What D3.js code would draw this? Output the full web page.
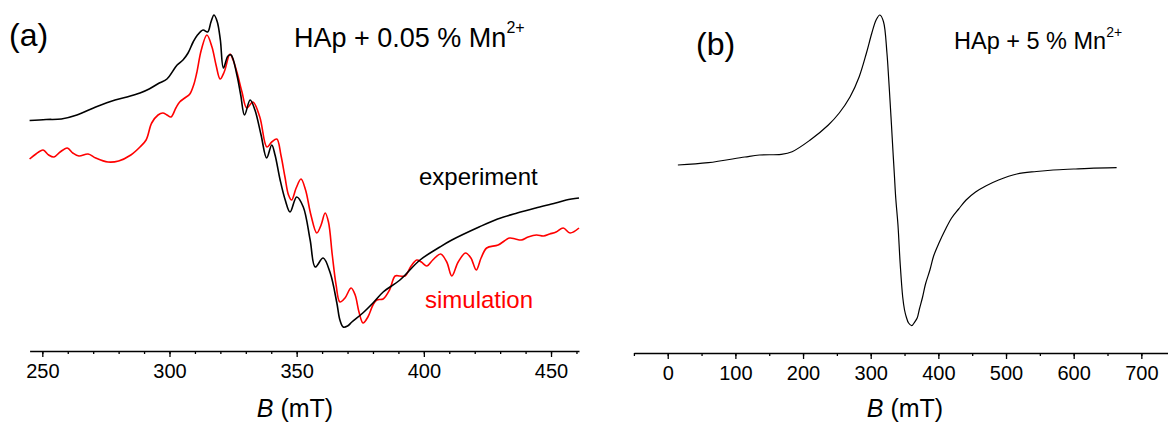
<!DOCTYPE html>
<html>
<head>
<meta charset="utf-8">
<script src="https://cdn.jsdelivr.net/npm/d3@7"></script>
<style>
  body { margin: 0; background: #fff; }
  text { font-family: Arial, "Liberation Sans", sans-serif; }
</style>
</head>
<body>
<div id="chart"></div>
<script>
// panel (a): HAp + 0.05 % Mn2+, field in mT, intensity in arb. units
let expB = [245, 251.5, 257.5, 263.6, 271, 278.6, 283.3, 288.4, 292, 296, 299, 303, 305.3, 307.3, 309.3, 311, 313.2, 315, 316.3, 317.5, 318.8, 320, 321.2, 323, 324.2, 326.5, 328, 329.5, 331.7, 333.6, 336, 338.2, 340.2, 341.5, 343.5, 345.5, 347.4, 350, 352.6, 355.3, 357.3, 360.4, 363.2, 365.8, 367, 368.3, 370, 371.7, 376, 380, 384, 390.6, 398.5, 406.3, 411, 421.7, 429, 436.7, 444, 451.8, 456, 461];
let expI = [0.595, 0.605, 0.61, 0.65, 0.73, 0.80, 0.83, 0.87, 0.91, 0.97, 1.01, 1.15, 1.20, 1.27, 1.38, 1.45, 1.50, 1.48, 1.58, 1.65, 1.58, 1.40, 1.12, 1.24, 1.25, 1.05, 0.85, 0.65, 0.80, 0.70, 0.45, 0.22, 0.35, 0.25, 0.0, -0.20, -0.32, -0.17, -0.27, -0.60, -0.87, -0.78, -0.93, -1.23, -1.40, -1.47, -1.46, -1.42, -1.33, -1.23, -1.12, -1.00, -0.80, -0.67, -0.60, -0.47, -0.39, -0.33, -0.28, -0.23, -0.20, -0.18];

let simB = [245, 247.5, 250.3, 252.5, 254.6, 257, 259.8, 262, 264.4, 268, 271, 275.8, 280, 284.8, 288.4, 290.8, 293, 295.5, 297.4, 299, 300.6, 302.5, 304, 306, 308, 309.5, 310.7, 312.5, 314.7, 316.7, 318.3, 319.9, 321.5, 323.8, 325, 326.5, 328.5, 330.4, 332.8, 335.5, 338.3, 340.2, 342.2, 343.8, 345.4, 346.8, 348, 349.8, 351.7, 353.5, 355.6, 357.9, 359.6, 361.2, 362.5, 364, 365.5, 367, 369, 371.4, 373, 374.5, 376.1, 378, 380, 381.5, 384, 386.5, 388.7, 390.5, 392.6, 395, 397.2, 399, 401.2, 403.5, 406.6, 409, 411, 413.5, 416.4, 418.5, 420.6, 422.5, 424.7, 429.2, 433.7, 436, 438.3, 441, 444.3, 447, 449.5, 452, 454.8, 457.5, 461];
let simI = [0.21, 0.26, 0.30, 0.25, 0.23, 0.28, 0.32, 0.27, 0.24, 0.26, 0.22, 0.18, 0.19, 0.25, 0.33, 0.40, 0.57, 0.65, 0.67, 0.65, 0.63, 0.72, 0.78, 0.82, 0.86, 0.95, 1.07, 1.30, 1.45, 1.33, 1.15, 1.01, 1.08, 1.26, 1.20, 1.08, 0.88, 0.72, 0.78, 0.63, 0.33, 0.38, 0.41, 0.25, 0.03, -0.15, -0.20, -0.08, 0.01, -0.10, -0.35, -0.53, -0.45, -0.33, -0.42, -0.75, -1.05, -1.22, -1.18, -1.08, -1.15, -1.32, -1.43, -1.37, -1.25, -1.20, -1.19, -1.10, -0.96, -0.96, -0.96, -0.86, -0.80, -0.82, -0.86, -0.80, -0.74, -0.82, -0.96, -0.82, -0.73, -0.78, -0.90, -0.78, -0.68, -0.65, -0.58, -0.59, -0.60, -0.57, -0.55, -0.56, -0.54, -0.52, -0.48, -0.53, -0.48];

// panel (b): HAp + 5 % Mn2+
let bB = [15, 60, 114, 135.6, 167.7, 183.8, 210.6, 237.4, 253.5, 269.6, 283, 293.7, 301.7, 308, 313.5, 318.9, 324, 326.5, 328.5, 330.7, 332.8, 335, 337, 340.3, 343.5, 347.3, 350, 352.6, 356, 360.7, 364, 368.7, 372, 376.7, 381, 387.5, 393, 400.9, 410, 419.6, 430, 441, 455, 470, 489, 516, 545, 569.7, 600, 623, 663.5];
let bI = [0.05, 0.073, 0.13, 0.15, 0.157, 0.183, 0.30, 0.45, 0.57, 0.733, 0.933, 1.17, 1.37, 1.50, 1.55, 1.483, 1.17, 0.92, 0.70, 0.45, 0.20, -0.05, -0.28, -0.55, -0.93, -1.27, -1.40, -1.47, -1.53, -1.557, -1.53, -1.48, -1.39, -1.27, -1.14, -1.00, -0.86, -0.73, -0.60, -0.48, -0.39, -0.30, -0.22, -0.16, -0.10, -0.04, -0.015, 0.0, 0.01, 0.017, 0.023];

let aTicks = [250, 300, 350, 400, 450];
let aMinor = d3.range(250, 461, 10);
let bTicks = [0, 100, 200, 300, 400, 500, 600, 700];
let bMinor = d3.range(-50, 741, 50);

let svg = d3.select("#chart").append("svg")
  .attr("width", 1168)
  .attr("height", 422);

// scales
let xA = d3.scaleLinear().domain([245, 461]).range([29.6, 579]);
let yA = d3.scaleLinear().domain([-1.5, 1.5]).range([330, 30]);
let xB = d3.scaleLinear().domain([-50, 740]).range([633.9, 1168.4]);
let yB = d3.scaleLinear().domain([-1.5, 1.5]).range([320, 20]);

function drawAxis(x, y0, ticks, minor) {
  let g = svg.append("g").attr("transform", "translate(0," + y0 + ")");
  g.append("g")
    .call(d3.axisBottom(x).tickValues(minor).tickFormat("").tickSize(3).tickSizeOuter(0))
    .call(a => a.select(".domain").remove())
    .selectAll("line").attr("stroke-width", 1.3);
  let maj = g.append("g")
    .call(d3.axisBottom(x).tickValues(ticks).tickSize(6).tickSizeOuter(0).tickPadding(7));
  maj.select(".domain").attr("stroke-width", 1.5);
  maj.selectAll("line").attr("stroke-width", 1.3);
  maj.selectAll("text")
    .attr("font-size", 20)
    .attr("font-family", "Arial, 'Liberation Sans', sans-serif")
    .attr("fill", "#000");
}

drawAxis(xA, 351, aTicks, aMinor);
drawAxis(xB, 353, bTicks, bMinor);

let lineA = d3.line().curve(d3.curveCatmullRom.alpha(0.5));

svg.append("path")
  .attr("d", lineA(simB.map((b, i) => [xA(b), yA(simI[i])])))
  .attr("fill", "none")
  .attr("stroke", "#f00")
  .attr("stroke-width", 1.6);

svg.append("path")
  .attr("d", lineA(expB.map((b, i) => [xA(b), yA(expI[i])])))
  .attr("fill", "none")
  .attr("stroke", "#000")
  .attr("stroke-width", 1.6);

svg.append("path")
  .attr("d", lineA(bB.map((b, i) => [xB(b), yB(bI[i])])))
  .attr("fill", "none")
  .attr("stroke", "#000")
  .attr("stroke-width", 1.2);

// labels
svg.append("text").attr("x", 9).attr("y", 46).attr("font-size", 32).text("(a)");
svg.append("text").attr("x", 696).attr("y", 55).attr("font-size", 32).text("(b)");

let tA = svg.append("text").attr("x", 294).attr("y", 47).attr("font-size", 27);
tA.append("tspan").text("HAp + 0.05 % Mn");
tA.append("tspan").attr("font-size", 16).attr("dy", -14).text("2+");

let tB = svg.append("text").attr("x", 954).attr("y", 49).attr("font-size", 23.5);
tB.append("tspan").text("HAp + 5 % Mn");
tB.append("tspan").attr("font-size", 14).attr("dy", -12).text("2+");

svg.append("text").attr("x", 419).attr("y", 185).attr("font-size", 24).text("experiment");
svg.append("text").attr("x", 425).attr("y", 308).attr("font-size", 24).attr("fill", "#f00").text("simulation");

function axisTitle(cx) {
  let t = svg.append("text").attr("x", cx).attr("y", 417).attr("font-size", 25).attr("text-anchor", "middle");
  t.append("tspan").attr("font-style", "italic").text("B");
  t.append("tspan").text(" (mT)");
}
axisTitle(295);
axisTitle(905);
</script>
</body>
</html>
